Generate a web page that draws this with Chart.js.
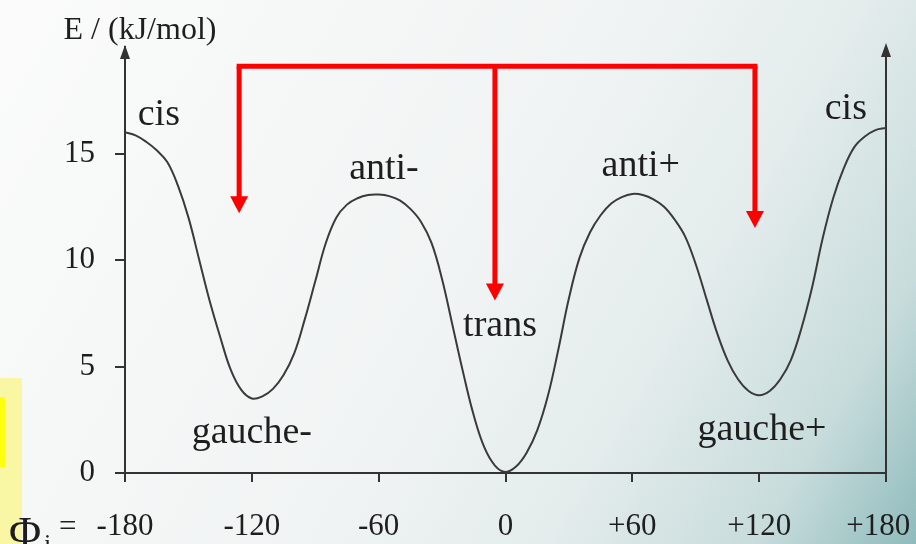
<!DOCTYPE html>
<html>
<head>
<meta charset="utf-8">
<script src="https://cdn.jsdelivr.net/npm/chart.js@4"></script>
<style>
  html, body { margin: 0; padding: 0; }
  #wrap { width: 916px; height: 544px; position: relative; }
</style>
</head>
<body>
<div id="wrap"><canvas id="torsion" width="916" height="544"></canvas></div>
<script>
// torsion angle (deg) and energy (kJ/mol), 5 degree steps
const phi = [-180,-175,-170,-165,-160,-155,-150,-145,-140,-135,-130,-125,-120,-115,-110,-105,-100,-95,-90,
             -85,-80,-75,-70,-65,-60,-55,-50,-45,-40,-35,-30,-25,-20,-15,-10,-5,0,
             5,10,15,20,25,30,35,40,45,50,55,60,65,70,75,80,85,90,
             95,100,105,110,115,120,125,130,135,140,145,150,155,160,165,170,175,180];
const energy = [16.0,15.85,15.55,15.15,14.6,13.5,12.0,10.05,8.1,6.4,4.85,3.9,3.5,3.6,3.95,4.6,5.6,7.2,9.0,
                10.8,12.0,12.6,12.9,13.05,13.07,13.0,12.8,12.4,11.8,10.8,9.1,6.9,4.7,2.7,1.2,0.35,0.05,
                0.3,0.95,2.0,3.6,5.8,8.2,10.1,11.3,12.1,12.65,12.95,13.1,13.05,12.85,12.5,11.9,11.1,9.8,
                8.2,6.6,5.3,4.4,3.85,3.65,3.85,4.4,5.3,6.8,8.7,11.0,12.9,14.3,15.3,15.8,16.1,16.2];
const xTicks = [-180,-120,-60,0,60,120,180];
const yTicks = [0,5,10,15];

// conformer names placed at (phi, E) - baseline of the text
const conformers = [
  {text:'cis', x:-164, y:16.35},
  {text:'anti-', x:-57.5, y:13.8},
  {text:'trans', x:-2.6, y:6.45},
  {text:'gauche-', x:-120, y:1.4},
  {text:'anti+', x:64, y:13.95},
  {text:'gauche+', x:121.3, y:1.55},
  {text:'cis', x:161, y:16.6}
];

// red arrows: shared bar height, then one drop per target
const arrowBarE = 19.1;
const arrowDrops = [{x:-126, to:12.2}, {x:-5, to:8.1}, {x:118, to:11.5}];

const serif = '"Liberation Serif", "DejaVu Serif", serif';

const backdrop = {
  id: 'backdrop',
  beforeDraw(chart) {
    const c = chart.ctx, w = chart.width, h = chart.height;
    c.save();
    const g = c.createLinearGradient(0, 0, w, h);
    g.addColorStop(0, '#fbfbfb');
    g.addColorStop(0.5, '#f1f4f4');
    g.addColorStop(0.7, '#e4ecec');
    g.addColorStop(0.87, '#c8dcdc');
    g.addColorStop(1, '#8fbbbc');
    c.fillStyle = g;
    c.fillRect(0, 0, w, h);
    c.fillStyle = '#f9f6a4';
    c.fillRect(0, 378, 22, h - 378);
    c.fillStyle = '#ffff10';
    c.fillRect(0, 397, 5, 70);
    c.restore();
  }
};

const overlay = {
  id: 'overlay',
  afterDraw(chart) {
    const c = chart.ctx, sx = chart.scales.x, sy = chart.scales.y, area = chart.chartArea;
    c.save();
    // arrow tips on both vertical axes
    c.fillStyle = '#333';
    [[area.left, area.top - 2], [area.right, area.top - 4]].forEach(([ax, ay]) => {
      c.beginPath();
      c.moveTo(ax, ay);
      c.lineTo(ax - 5, ay + 14);
      c.lineTo(ax + 5, ay + 14);
      c.closePath();
      c.fill();
    });

    // labels
    c.fillStyle = '#1e1e1e';
    c.textAlign = 'center';
    c.textBaseline = 'alphabetic';
    c.font = '38px ' + serif;
    conformers.forEach(l => c.fillText(l.text, sx.getPixelForValue(l.x), sy.getPixelForValue(l.y)));

    c.font = '32px ' + serif;
    c.fillText('E / (kJ/mol)', 140, 39);

    c.textAlign = 'left';
    c.font = '44px ' + serif;
    c.fillText('\u03A6', 9, 547);
    c.font = '26px ' + serif;
    c.fillText('i', 44, 552);
    c.font = '31px ' + serif;
    c.fillText('=', 59, 536);

    // red arrows
    const barY = sy.getPixelForValue(arrowBarE);
    const xs = arrowDrops.map(d => sx.getPixelForValue(d.x));
    c.strokeStyle = '#ff0000';
    c.fillStyle = '#ff0000';
    c.lineWidth = 5;
    c.lineCap = 'butt';
    c.beginPath();
    c.moveTo(Math.min(...xs) - 2.5, barY);
    c.lineTo(Math.max(...xs) + 2.5, barY);
    c.stroke();
    arrowDrops.forEach((d, i) => {
      const tip = sy.getPixelForValue(d.to);
      c.beginPath();
      c.moveTo(xs[i], barY);
      c.lineTo(xs[i], tip - 14);
      c.stroke();
      c.beginPath();
      c.moveTo(xs[i], tip);
      c.lineTo(xs[i] - 9, tip - 17);
      c.lineTo(xs[i] + 9, tip - 17);
      c.closePath();
      c.fill();
    });
    c.restore();
  }
};

new Chart(document.getElementById('torsion'), {
  type: 'line',
  data: {
    datasets: [{
      data: phi.map((p, i) => ({x: p, y: energy[i]})),
      borderColor: '#3a3a3a',
      borderWidth: 2,
      pointRadius: 0,
      tension: 0.4,
      fill: false
    }]
  },
  options: {
    responsive: false,
    animation: false,
    layout: {padding: {top: 47, right: 30, left: 0, bottom: 0}},
    plugins: {legend: {display: false}, tooltip: {enabled: false}},
    scales: {
      x: {
        type: 'linear', min: -180, max: 180,
        afterBuildTicks: s => { s.ticks = xTicks.map(v => ({value: v})); },
        afterFit: s => { s.height = 71; s.paddingLeft = 0; s.paddingRight = 0; },
        ticks: {
          // last label kept inside the canvas edge
          callback: v => v === 180 ? '+180\u2002' : (v > 0 ? '+' + v : String(v)),
          color: '#1e1e1e', font: {family: serif, size: 31}, padding: 26, maxRotation: 0
        },
        grid: {drawOnChartArea: false, tickLength: 9, color: '#333', lineWidth: 2},
        border: {color: '#333', width: 2}
      },
      y: {
        min: 0, max: 20,
        afterBuildTicks: s => { s.ticks = yTicks.map(v => ({value: v})); },
        afterFit: s => { s.width = 125; },
        ticks: {color: '#1e1e1e', font: {family: serif, size: 31}, padding: 20},
        grid: {drawOnChartArea: false, tickLength: 10, color: '#333', lineWidth: 2},
        border: {color: '#333', width: 2}
      },
      y2: {
        position: 'right', min: 0, max: 20,
        afterFit: s => { s.width = 0; },
        ticks: {display: false},
        grid: {display: false},
        border: {color: '#333', width: 2}
      }
    }
  },
  plugins: [backdrop, overlay]
});
</script>
</body>
</html>
